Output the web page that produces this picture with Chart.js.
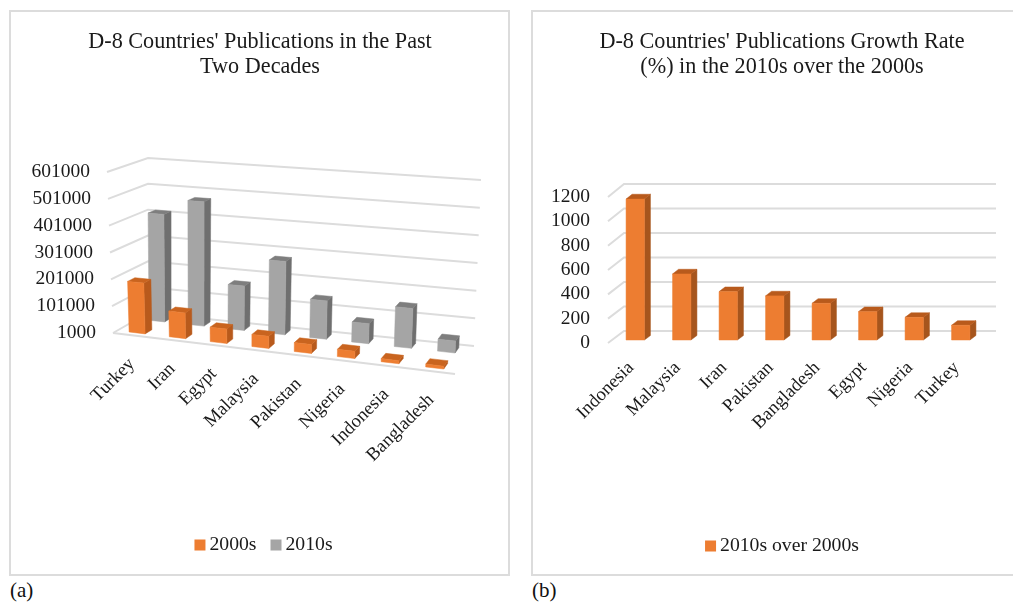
<!DOCTYPE html>
<html>
<head>
<meta charset="utf-8">
<script src="https://cdn.jsdelivr.net/npm/chart.js@4/dist/chart.umd.js"></script>
<style>
  html, body { margin: 0; padding: 0; background: #fff; width: 1013px; height: 602px; overflow: hidden; }
  .panel { position: absolute; top: 10px; width: 500px; height: 565px; box-sizing: border-box; }
  .frame { position: absolute; top: 10px; width: 501px; height: 566px; box-sizing: border-box; border: 2px solid #dcdcdc; }
  .tag { position: absolute; top: 578px; font: 21px "Liberation Serif", serif; color: #111; }
  canvas { position: absolute; left: 0; top: 0; }
</style>
</head>
<body>
<div class="frame" style="left:9px"></div>
<div class="frame" style="left:531px"></div>
<div class="panel" style="left:10px"><canvas id="left" width="500" height="565"></canvas></div>
<div class="panel" style="left:532px"><canvas id="right" width="500" height="565"></canvas></div>
<div class="tag" style="left:10px">(a)</div>
<div class="tag" style="left:532px">(b)</div>
<script>
// Publications per country, by decade
const countries = ['Turkey', 'Iran', 'Egypt', 'Malaysia', 'Pakistan', 'Nigeria', 'Indonesia', 'Bangladesh'];
const pubs2000s = [190000, 96000, 54000, 45000, 33000, 27000, 12000, 11000];
const pubs2010s = [410000, 470000, 167000, 273000, 142000, 74000, 145000, 44000];

// Growth of the 2010s over the 2000s, in percent
const growthCountries = ['Indonesia', 'Malaysia', 'Iran', 'Pakistan', 'Bangladesh', 'Egypt', 'Nigeria', 'Turkey'];
const growthRates = [1156, 542, 397, 362, 301, 233, 186, 121];

const SERIF = '"Liberation Serif", "Times New Roman", serif';
const INK = '#1a1a1a';
const GRID = '#dcdcdc';
const TICK_SIZE = 19.5;
const CATEGORY_SIZE = 18.6;

// Bilinear map of the unit square onto a quadrilateral (0,0), (1,0), (1,1), (0,1)
function quad(p0, p1, p2, p3) {
  return (u, w) => [0, 1].map(k =>
    (p0[k] * (1 - u) + p1[k] * u) * (1 - w) + (p3[k] * (1 - u) + p2[k] * u) * w);
}

// A view holds the floor and ceiling of the plot box; height blends between them,
// and `foreshorten` widens the categories towards the near right corner
function makeView(origin, floor, ceiling, foreshorten, extra) {
  const shift = pts => pts.map(p => [p[0] - origin[0], p[1] - origin[1]]);
  const lo = quad(...shift(floor)), hi = quad(...shift(ceiling));
  return Object.assign({
    project(u, v, w) {
      const s = u - foreshorten * u * (1 - u);
      const a = lo(s, w), b = hi(s, w);
      return [a[0] + (b[0] - a[0]) * v, a[1] + (b[1] - a[1]) * v];
    }
  }, extra);
}

const views = {
  left: makeView([10, 10],
    [[113, 333], [455, 374], [474, 346], [148, 313]],
    [[107, 172], [463, 202], [481, 180], [148, 158]],
    0.068,
    {
      front: [0.12, 0.32], rear: [0.7, 0.89], frontEdge: true,
      tickGap: 17, labelShift: [-9, 18],
      legend: { centerX: 253.5, y: 535 }
    }),
  right: makeView([532, 10],
    [[608, 343], [980, 343], [996, 331], [624, 331]],
    [[608, 197], [980, 197], [996, 184], [624, 184]],
    0,
    {
      front: [0.25, 0.625], rear: [0.25, 0.625], frontEdge: false,
      tickGap: 18, labelShift: [-8, 14],
      legend: { centerX: 250, y: 536 }
    })
};

// Category axis whose labels follow the projected front edge
class ProjectedCategoryScale extends Chart.CategoryScale {
  static id = 'projectedCategory';
  static defaults = Chart.CategoryScale.defaults;
  _computeLabelItems(area) {
    const view = views[this.chart.canvas.id];
    const items = super._computeLabelItems(area);
    items.forEach((item, i) => {
      const u = (this.getPixelForTick(i) - this.left) / this.width;
      const p = view.project(u, 0, 0);
      item.options.translation = [p[0] + view.labelShift[0], p[1] + view.labelShift[1]];
    });
    return items;
  }
}

// Value axis whose labels follow the projected front corner
class ProjectedLinearScale extends Chart.LinearScale {
  static id = 'projectedLinear';
  static defaults = Chart.LinearScale.defaults;
  _computeLabelItems(area) {
    const view = views[this.chart.canvas.id];
    const items = super._computeLabelItems(area);
    items.forEach((item, i) => {
      const py = this.getPixelForTick(i);
      const v = (this.bottom - py) / (this.bottom - this.top);
      const p = view.project(0, v, 0);
      item.options.translation = [p[0] - view.tickGap, p[1]];
    });
    return items;
  }
  // Labels sit left of the narrow axis box, so they are not clipped to it
  _computeLabelArea() {
    return undefined;
  }
}
Chart.register(ProjectedCategoryScale, ProjectedLinearScale);

function polygon(ctx, pts, color) {
  ctx.beginPath();
  pts.forEach((p, i) => i ? ctx.lineTo(p[0], p[1]) : ctx.moveTo(p[0], p[1]));
  ctx.closePath();
  ctx.fillStyle = color;
  ctx.strokeStyle = color;
  ctx.lineWidth = 0.5;
  ctx.fill();
  ctx.stroke();
}

const boxPlugin = {
  id: 'box3d',
  // Walls and floor: each value tick runs along the side wall, then the back wall
  beforeDatasetsDraw(chart) {
    const view = views[chart.canvas.id], y = chart.scales.y, ctx = chart.ctx;
    const a = chart.chartArea;
    ctx.save();
    ctx.strokeStyle = GRID;
    ctx.lineWidth = 2;
    y.ticks.forEach(t => {
      const v = (a.bottom - y.getPixelForValue(t.value)) / a.height;
      const p = [view.project(0, v, 0), view.project(0, v, 1), view.project(1, v, 1)];
      ctx.beginPath();
      ctx.moveTo(...p[0]); ctx.lineTo(...p[1]); ctx.lineTo(...p[2]);
      ctx.stroke();
    });
    if (view.frontEdge) {
      ctx.beginPath();
      ctx.moveTo(...view.project(0, 0, 0));
      ctx.lineTo(...view.project(1, 0, 0));
      ctx.stroke();
    }
    ctx.restore();
  },
  // Bars: the scale-placed element is redrawn as three projected faces
  beforeDatasetDraw(chart, args) {
    const view = views[chart.canvas.id], a = chart.chartArea, ctx = chart.ctx;
    const ds = chart.data.datasets[args.index];
    const [wf, wb] = args.index === 0 ? view.front : view.rear;
    ctx.save();
    args.meta.data.forEach(bar => {
      const ul = (bar.x - bar.width / 2 - a.left) / a.width;
      const ur = (bar.x + bar.width / 2 - a.left) / a.width;
      const v = (a.bottom - bar.y) / a.height;
      const P = (u, h, w) => view.project(u, h, w);
      polygon(ctx, [P(ur, 0, wf), P(ur, 0, wb), P(ur, v, wb), P(ur, v, wf)], ds.sideColor);
      polygon(ctx, [P(ul, v, wf), P(ur, v, wf), P(ur, v, wb), P(ul, v, wb)], ds.topColor);
      polygon(ctx, [P(ul, 0, wf), P(ur, 0, wf), P(ur, v, wf), P(ul, v, wf)], ds.backgroundColor);
    });
    ctx.restore();
    return false;
  },
  // Legend with a tight swatch-to-text gap, centred under the plot
  afterDraw(chart) {
    const view = views[chart.canvas.id], ctx = chart.ctx;
    const { centerX, y } = view.legend;
    const SWATCH = 11, GAP = 4, BETWEEN = 14;
    ctx.save();
    ctx.font = '19.7px ' + SERIF;
    ctx.textBaseline = 'middle';
    ctx.textAlign = 'left';
    const sets = chart.data.datasets;
    const widths = sets.map(d => ctx.measureText(d.label).width);
    const total = widths.reduce((s, w) => s + SWATCH + GAP + w, 0) + BETWEEN * (sets.length - 1);
    let x = centerX - total / 2;
    sets.forEach((d, i) => {
      ctx.fillStyle = d.backgroundColor;
      ctx.fillRect(x, y - SWATCH / 2, SWATCH, SWATCH);
      ctx.fillStyle = INK;
      ctx.fillText(d.label, x + SWATCH + GAP, y);
      x += SWATCH + GAP + widths[i] + BETWEEN;
    });
    ctx.restore();
  }
};

function buildChart(id, title, labels, datasets, range, box) {
  const inset = 500 - box.right;
  return new Chart(document.getElementById(id), {
    type: 'bar',
    data: { labels, datasets },
    plugins: [boxPlugin],
    options: {
      responsive: false,
      animation: false,
      // Equal side insets keep the title centred on the panel
      layout: { padding: { left: inset, right: inset, top: 0, bottom: 0 } },
      plugins: {
        legend: { display: false },
        tooltip: { enabled: false },
        title: {
          display: true,
          text: title,
          color: INK,
          font: { family: SERIF, size: 22.2, weight: 'normal', lineHeight: 25 / 22.2 },
          padding: { top: 19.5, bottom: box.top - 69.5 }
        }
      },
      scales: {
        x: {
          type: 'projectedCategory',
          grid: { display: false, drawTicks: false },
          border: { display: false },
          afterFit: s => { s.height = 565 - box.bottom; },
          ticks: {
            color: INK, autoSkip: false, minRotation: 45, maxRotation: 45,
            font: { family: SERIF, size: CATEGORY_SIZE }
          }
        },
        y: {
          type: 'projectedLinear',
          min: range.min, max: range.max,
          grid: { display: false, drawTicks: false },
          border: { display: false },
          afterFit: s => { s.width = box.left - inset; },
          ticks: {
            color: INK, stepSize: range.step, autoSkip: false,
            callback: v => String(v),
            font: { family: SERIF, size: TICK_SIZE }
          }
        }
      }
    }
  });
}

const barShape = { grouped: false, categoryPercentage: 1 };

buildChart('left',
  ["D-8 Countries' Publications in the Past", 'Two Decades'],
  countries,
  [
    { label: '2000s', data: pubs2000s, backgroundColor: '#ED7D31', sideColor: '#B85A1C', topColor: '#C9641F', barPercentage: 0.4, ...barShape },
    { label: '2010s', data: pubs2010s, backgroundColor: '#A5A5A5', sideColor: '#6F6F6F', topColor: '#7E7E7E', barPercentage: 0.4, ...barShape }
  ],
  { min: 1000, max: 601000, step: 100000 },
  { left: 103, right: 445, top: 162, bottom: 323 });

buildChart('right',
  ["D-8 Countries' Publications Growth Rate", '(%) in the 2010s over the 2000s'],
  growthCountries,
  [
    { label: '2010s over 2000s', data: growthRates, backgroundColor: '#ED7D31', sideColor: '#A6551D', topColor: '#B85A1C', barPercentage: 0.395, ...barShape }
  ],
  { min: 0, max: 1200, step: 200 },
  { left: 76, right: 448, top: 187, bottom: 333 });
</script>
</body>
</html>
